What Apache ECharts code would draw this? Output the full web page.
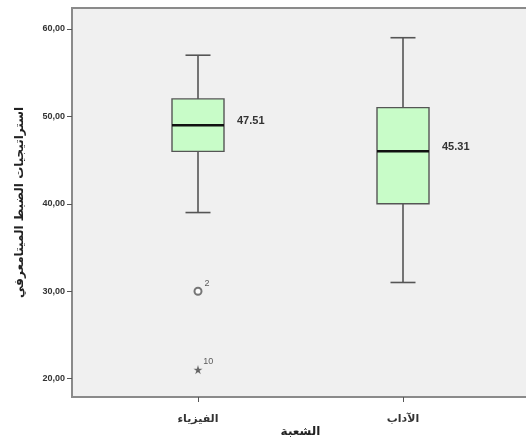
<!DOCTYPE html>
<html><head><meta charset="utf-8">
<script src="https://cdn.jsdelivr.net/npm/echarts@6/dist/echarts.min.js"></script>
<style>html,body{margin:0;padding:0;background:#fff}#c{width:526px;height:439px}</style>
</head><body><div id="c"></div>
<script>
const categories = ['الفيزياء', 'الآداب'];
const whiskerLow = [39, 31];
const q1Values = [46, 40];
const medians = [49, 46];
const q3Values = [52, 51];
const whiskerHigh = [57, 59];
const means = [47.51, 45.31];
const outlierCategory = [0, 0];
const outlierValues = [30, 21];
const outlierIds = ['2', '10'];
const outlierKinds = ['circle', 'star'];
const yTicks = [20, 30, 40, 50, 60];

const yMin = 17.9, yMax = 62.4;
const boxData = categories.map((c, i) => [i, whiskerLow[i], q1Values[i], medians[i], q3Values[i], whiskerHigh[i], means[i]]);
const starPath = 'path://M50,0 L61,35 L98,35 L68,57 L79,91 L50,70 L21,91 L32,57 L2,35 L39,35 Z';
const outlierData = outlierValues.map((v, i) => ({
  value: [outlierCategory[i], v],
  symbol: outlierKinds[i] === 'star' ? starPath : 'emptyCircle',
  symbolSize: outlierKinds[i] === 'star' ? 5.5 : 7,
  label: { formatter: outlierIds[i] }
}));

const chart = echarts.init(document.getElementById('c'));
chart.setOption({
  animation: false,
  grid: [
    { left: 72, right: -3, top: 8, bottom: 42, show: true, backgroundColor: '#f0f0f0', borderColor: '#8a8a8a', borderWidth: 2, outerBoundsMode: 'none', containLabel: false },
    { left: 95.5, right: 20.5, top: 8, bottom: 42, outerBoundsMode: 'none', containLabel: false }
  ],
  xAxis: [
    { gridIndex: 0, type: 'value', min: 0, max: 1, axisLine: { show: false }, axisTick: { show: false }, axisLabel: { show: false }, splitLine: { show: false },
      name: 'الشعبة', nameLocation: 'middle', nameGap: 29,
      nameTextStyle: { fontFamily: 'DejaVu Sans', fontWeight: 'bold', fontSize: 12, color: '#222' } },
    { gridIndex: 1, type: 'category', data: categories, boundaryGap: true,
      axisLine: { show: false },
      axisTick: { show: true, alignWithLabel: true, length: 5, lineStyle: { color: '#555', width: 1 } },
      axisLabel: { margin: 17, fontFamily: 'DejaVu Sans', fontWeight: 'bold', fontSize: 11, color: '#333' } }
  ],
  yAxis: [
    { gridIndex: 0, type: 'value', min: yMin, max: yMax,
      axisLine: { show: false },
      axisTick: { show: true, length: 5, customValues: yTicks, lineStyle: { color: '#555', width: 1 } },
      axisLabel: { customValues: yTicks, margin: 7, fontFamily: 'Liberation Sans', fontWeight: 'bold', fontSize: 9, color: '#333',
        formatter: v => v.toFixed(2).replace('.', ',') },
      splitLine: { show: false },
      name: 'استراتيجيات الضبط الميتامعرفي', nameLocation: 'middle', nameGap: 46,
      nameTextStyle: { fontFamily: 'DejaVu Sans', fontWeight: 'bold', fontSize: 12, color: '#222' } },
    { gridIndex: 1, type: 'value', min: yMin, max: yMax, show: false, splitLine: { show: false } }
  ],
  series: [
    {
      type: 'custom', xAxisIndex: 1, yAxisIndex: 1, data: boxData,
      renderItem: function (params, api) {
        const x = api.value(0);
        const lo = api.coord([x, api.value(1)]);
        const q1 = api.coord([x, api.value(2)]);
        const md = api.coord([x, api.value(3)]);
        const q3 = api.coord([x, api.value(4)]);
        const hi = api.coord([x, api.value(5)]);
        const cx = lo[0];
        const hw = 26, cap = 12.5;
        const ls = { stroke: '#555', lineWidth: 1.6 };
        return { type: 'group', children: [
          { type: 'line', shape: { x1: cx, y1: hi[1], x2: cx, y2: q3[1] }, style: ls },
          { type: 'line', shape: { x1: cx, y1: q1[1], x2: cx, y2: lo[1] }, style: ls },
          { type: 'line', shape: { x1: cx - cap, y1: hi[1], x2: cx + cap, y2: hi[1] }, style: ls },
          { type: 'line', shape: { x1: cx - cap, y1: lo[1], x2: cx + cap, y2: lo[1] }, style: ls },
          { type: 'rect', shape: { x: cx - hw, y: q3[1], width: 2 * hw, height: q1[1] - q3[1] }, style: { fill: '#c8fcc8', stroke: '#555', lineWidth: 1.4 } },
          { type: 'line', shape: { x1: cx - hw, y1: md[1], x2: cx + hw, y2: md[1] }, style: { stroke: '#111', lineWidth: 2.5 } },
          { type: 'text', x: cx + hw + 13, y: md[1] - 4, style: { text: api.value(6).toFixed(2), fill: '#333', fontFamily: 'Liberation Sans', fontWeight: 'bold', fontSize: 11, verticalAlign: 'middle', align: 'left' } }
        ] };
      }
    },
    {
      type: 'scatter', xAxisIndex: 1, yAxisIndex: 1, data: outlierData,
      itemStyle: { color: '#555', borderColor: '#555', borderWidth: 1.2 },
      label: { show: true, position: 'right', offset: [-3, -8], fontFamily: 'Liberation Sans', fontSize: 9, color: '#333' }
    }
  ]
});
</script></body></html>
